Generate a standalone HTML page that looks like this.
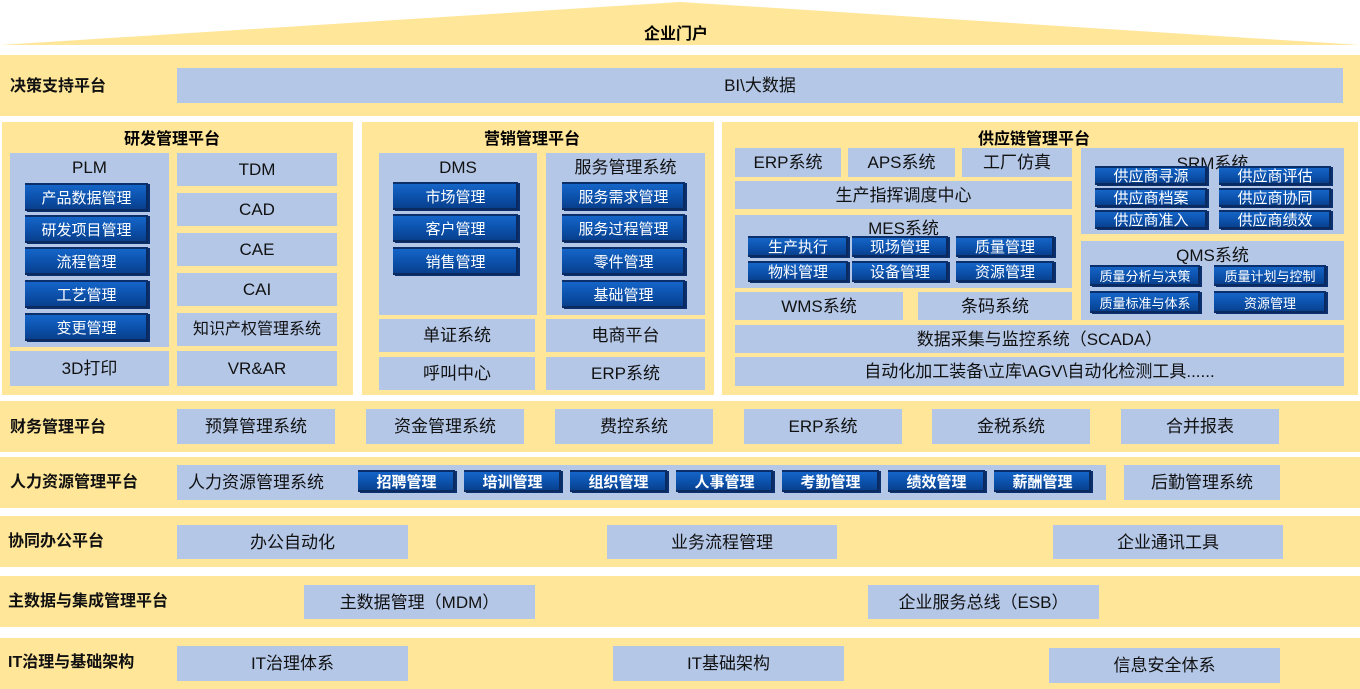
<!DOCTYPE html>
<html><head><meta charset="utf-8"><style>
*{margin:0;padding:0;box-sizing:border-box}
body{width:1360px;height:689px;background:#fff;position:relative;overflow:hidden;font-family:"Liberation Sans","Noto Sans CJK SC",sans-serif;color:#111}
.y{position:absolute;background:#FFE699}
.b{position:absolute;background:#B4C7E7;display:flex;align-items:center;justify-content:center;font-size:17px;color:#111;white-space:nowrap;line-height:1}
.t{align-items:flex-start;padding-top:6px}
.d{position:absolute;background:linear-gradient(#1565C8,#0B4FA8 55%,#083C86);color:#fff;display:flex;align-items:center;justify-content:center;font-size:15px;box-shadow:-2px -2px 0 #0a2a60 inset, 2px 1px 0 #0a3070;border-top:2px solid #0a2f6a;white-space:nowrap;line-height:1}
.h{position:absolute;font-weight:bold;font-size:16px;color:#000;white-space:nowrap;line-height:1}
.L{position:absolute;font-weight:bold;font-size:16px;left:10px;white-space:nowrap;line-height:1}
</style></head><body>
<svg style="position:absolute;left:0;top:0" width="1360" height="46"><polygon points="0,45 680,2 1360,45" fill="#FFE699"/></svg>
<div class="h" style="left:644px;top:27px">企业门户</div>

<div class="y" style="left:0;top:55px;width:1360px;height:61px"></div>
<div class="L" style="top:79px">决策支持平台</div>
<div class="b" style="left:177px;top:68px;width:1166px;height:35px">BI\大数据</div>

<div class="y" style="left:2px;top:122px;width:351px;height:273px"></div>
<div class="y" style="left:362px;top:122px;width:352px;height:273px"></div>
<div class="y" style="left:722px;top:122px;width:636px;height:273px"></div>
<div class="h" style="left:124px;top:132px">研发管理平台</div>
<div class="h" style="left:484px;top:132px">营销管理平台</div>
<div class="h" style="left:978px;top:132px">供应链管理平台</div>

<div class="b t" style="left:10px;top:153px;width:159px;height:194px">PLM</div>
<div class="d" style="left:25px;top:183px;width:123px;height:28px">产品数据管理</div>
<div class="d" style="left:25px;top:215px;width:123px;height:28px">研发项目管理</div>
<div class="d" style="left:25px;top:247px;width:123px;height:28px">流程管理</div>
<div class="d" style="left:25px;top:280px;width:123px;height:28px">工艺管理</div>
<div class="d" style="left:25px;top:313px;width:123px;height:28px">变更管理</div>
<div class="b" style="left:10px;top:351px;width:159px;height:35px">3D打印</div>
<div class="b" style="left:177px;top:153px;width:160px;height:33px">TDM</div>
<div class="b" style="left:177px;top:193px;width:160px;height:33px">CAD</div>
<div class="b" style="left:177px;top:233px;width:160px;height:33px">CAE</div>
<div class="b" style="left:177px;top:273px;width:160px;height:33px">CAI</div>
<div class="b" style="left:177px;top:313px;width:160px;height:33px;font-size:16px">知识产权管理系统</div>
<div class="b" style="left:177px;top:351px;width:160px;height:35px">VR&amp;AR</div>

<div class="b t" style="left:379px;top:153px;width:158px;height:162px">DMS</div>
<div class="d" style="left:393px;top:182px;width:125px;height:28px">市场管理</div>
<div class="d" style="left:393px;top:214px;width:125px;height:28px">客户管理</div>
<div class="d" style="left:393px;top:247px;width:125px;height:28px">销售管理</div>
<div class="b t" style="left:546px;top:153px;width:159px;height:162px">服务管理系统</div>
<div class="d" style="left:562px;top:182px;width:123px;height:28px">服务需求管理</div>
<div class="d" style="left:562px;top:214px;width:123px;height:28px">服务过程管理</div>
<div class="d" style="left:562px;top:247px;width:123px;height:28px">零件管理</div>
<div class="d" style="left:562px;top:280px;width:123px;height:28px">基础管理</div>
<div class="b" style="left:379px;top:319px;width:156px;height:33px">单证系统</div>
<div class="b" style="left:546px;top:319px;width:159px;height:33px">电商平台</div>
<div class="b" style="left:379px;top:357px;width:156px;height:33px">呼叫中心</div>
<div class="b" style="left:546px;top:357px;width:159px;height:33px">ERP系统</div>

<div class="b" style="left:735px;top:148px;width:106px;height:29px">ERP系统</div>
<div class="b" style="left:848px;top:148px;width:107px;height:29px">APS系统</div>
<div class="b" style="left:962px;top:148px;width:110px;height:29px">工厂仿真</div>
<div class="b" style="left:735px;top:181px;width:337px;height:28px">生产指挥调度中心</div>
<div class="b t" style="left:735px;top:215px;width:337px;height:73px;padding-top:5px">MES系统</div>
<div class="d" style="left:748px;top:236px;width:100px;height:21px">生产执行</div>
<div class="d" style="left:852px;top:236px;width:96px;height:21px">现场管理</div>
<div class="d" style="left:956px;top:236px;width:98px;height:21px">质量管理</div>
<div class="d" style="left:748px;top:261px;width:100px;height:21px">物料管理</div>
<div class="d" style="left:852px;top:261px;width:96px;height:21px">设备管理</div>
<div class="d" style="left:956px;top:261px;width:98px;height:21px">资源管理</div>
<div class="b" style="left:735px;top:292px;width:168px;height:28px">WMS系统</div>
<div class="b" style="left:918px;top:292px;width:154px;height:28px">条码系统</div>
<div class="b t" style="left:1081px;top:148px;width:263px;height:86px;padding-top:7px">SRM系统</div>
<div class="d" style="left:1095px;top:166px;width:112px;height:19px">供应商寻源</div>
<div class="d" style="left:1219px;top:166px;width:112px;height:19px">供应商评估</div>
<div class="d" style="left:1095px;top:188px;width:112px;height:19px">供应商档案</div>
<div class="d" style="left:1219px;top:188px;width:112px;height:19px">供应商协同</div>
<div class="d" style="left:1095px;top:210px;width:112px;height:19px">供应商准入</div>
<div class="d" style="left:1219px;top:210px;width:112px;height:19px">供应商绩效</div>
<div class="b t" style="left:1081px;top:241px;width:263px;height:79px;padding-top:6px">QMS系统</div>
<div class="d" style="left:1090px;top:265px;width:110px;height:21px;font-size:13px">质量分析与决策</div>
<div class="d" style="left:1214px;top:265px;width:112px;height:21px;font-size:13px">质量计划与控制</div>
<div class="d" style="left:1090px;top:291px;width:110px;height:22px;font-size:13px">质量标准与体系</div>
<div class="d" style="left:1214px;top:291px;width:112px;height:22px;font-size:13px">资源管理</div>
<div class="b" style="left:735px;top:325px;width:609px;height:28px">数据采集与监控系统（SCADA）</div>
<div class="b" style="left:735px;top:357px;width:609px;height:29px">自动化加工装备\立库\AGV\自动化检测工具......</div>

<div class="y" style="left:0;top:401px;width:1360px;height:51px"></div>
<div class="L" style="top:420px">财务管理平台</div>
<div class="b" style="left:177px;top:409px;width:158px;height:35px">预算管理系统</div>
<div class="b" style="left:366px;top:409px;width:158px;height:35px">资金管理系统</div>
<div class="b" style="left:555px;top:409px;width:158px;height:35px">费控系统</div>
<div class="b" style="left:744px;top:409px;width:158px;height:35px">ERP系统</div>
<div class="b" style="left:932px;top:409px;width:158px;height:35px">金税系统</div>
<div class="b" style="left:1121px;top:409px;width:158px;height:35px">合并报表</div>

<div class="y" style="left:0;top:457px;width:1360px;height:51px"></div>
<div class="L" style="top:475px">人力资源管理平台</div>
<div class="b" style="left:177px;top:465px;width:929px;height:35px;justify-content:flex-start;padding-left:11px">人力资源管理系统</div>
<div class="d" style="left:358px;top:470px;width:97px;height:22px;font-weight:bold">招聘管理</div>
<div class="d" style="left:464px;top:470px;width:97px;height:22px;font-weight:bold">培训管理</div>
<div class="d" style="left:570px;top:470px;width:97px;height:22px;font-weight:bold">组织管理</div>
<div class="d" style="left:676px;top:470px;width:97px;height:22px;font-weight:bold">人事管理</div>
<div class="d" style="left:782px;top:470px;width:97px;height:22px;font-weight:bold">考勤管理</div>
<div class="d" style="left:888px;top:470px;width:97px;height:22px;font-weight:bold">绩效管理</div>
<div class="d" style="left:994px;top:470px;width:97px;height:22px;font-weight:bold">薪酬管理</div>
<div class="b" style="left:1124px;top:465px;width:156px;height:35px">后勤管理系统</div>

<div class="y" style="left:0;top:516px;width:1360px;height:51px"></div>
<div class="L" style="top:534px;left:8px">协同办公平台</div>
<div class="b" style="left:177px;top:525px;width:231px;height:34px">办公自动化</div>
<div class="b" style="left:607px;top:525px;width:230px;height:34px">业务流程管理</div>
<div class="b" style="left:1053px;top:525px;width:230px;height:34px">企业通讯工具</div>

<div class="y" style="left:0;top:576px;width:1360px;height:51px"></div>
<div class="L" style="top:594px;left:8px">主数据与集成管理平台</div>
<div class="b" style="left:304px;top:585px;width:231px;height:34px">主数据管理（MDM）</div>
<div class="b" style="left:868px;top:585px;width:231px;height:34px">企业服务总线（ESB）</div>

<div class="y" style="left:0;top:638px;width:1360px;height:51px"></div>
<div class="L" style="top:655px;left:8px">IT治理与基础架构</div>
<div class="b" style="left:177px;top:646px;width:231px;height:35px">IT治理体系</div>
<div class="b" style="left:613px;top:646px;width:231px;height:35px">IT基础架构</div>
<div class="b" style="left:1049px;top:648px;width:231px;height:35px">信息安全体系</div>
</body></html>
